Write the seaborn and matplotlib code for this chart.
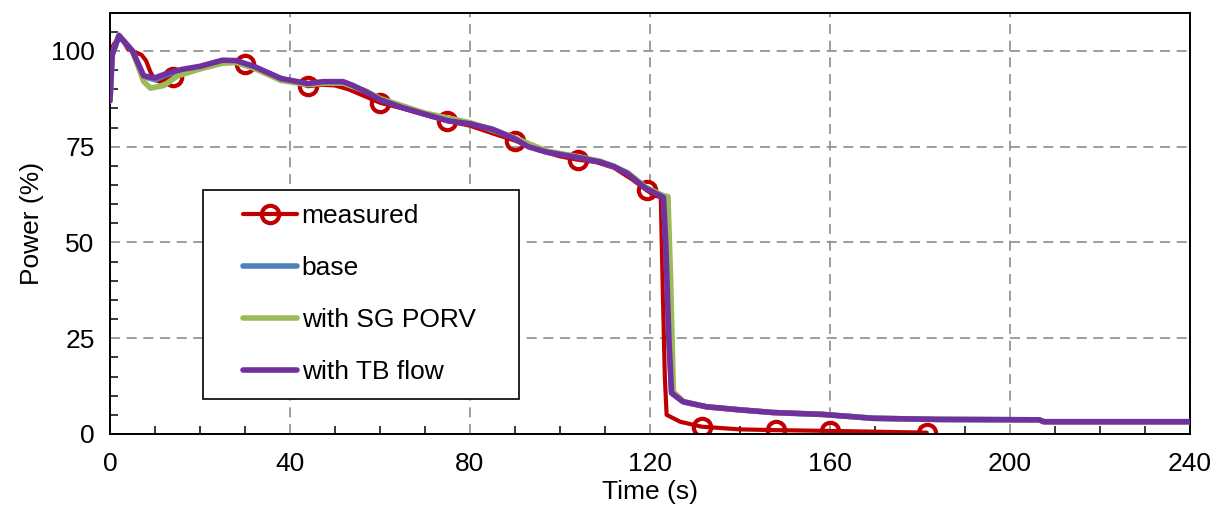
import numpy as np
import pandas as pd
import matplotlib
matplotlib.use("Agg")
import matplotlib.pyplot as plt
from matplotlib.ticker import MultipleLocator
from matplotlib.lines import Line2D
from matplotlib.legend_handler import HandlerLine2D
import seaborn as sns

# ---------------- data ----------------
meas_t = [0, 1, 2, 3, 4, 5, 6, 7, 8, 9, 10, 11, 12, 14, 16, 18, 20, 22, 25, 28, 30,
          32, 35, 38, 41, 44, 47, 50, 53, 56, 60, 65, 70, 75, 80, 85, 90, 95, 100,
          104, 108, 112, 116, 119.3, 121, 122.4, 122.8, 123.3, 123.7, 126.7, 131.5,
          140, 148, 160, 170, 181.5]
meas_v = [100, 102, 103.5, 102.5, 100.5, 100, 99.5, 99, 97.5, 94.5, 92.5, 92, 92.5,
          93.2, 94.5, 95.3, 95.7, 96.3, 97, 97.3, 96.6, 95.8, 94.5, 93, 92, 90.8,
          91.2, 91, 90, 88.5, 86.5, 85, 83.3, 81.7, 80.5, 78.5, 76.6, 74.2, 72.5,
          71.6, 71, 69.5, 66.5, 63.6, 62.3, 61.8, 40, 15, 5, 3.2, 1.9, 1.2, 1.0,
          0.8, 0.6, 0.35]
meas_marker_t = [14, 30, 44, 60, 75, 90, 104, 119.3, 131.5, 148, 160, 181.5]

base_t = [0, 0.5, 2, 5, 7.5, 10, 13, 16, 20, 25, 28, 32, 38, 44, 47.4, 51.8, 54, 57,
          60, 65, 70, 75, 80, 85, 89.6, 93, 97, 100, 104, 109, 112, 115, 119, 123,
          123.5, 124.2, 124.8, 127.4, 132.6, 140, 147.4, 158.5, 169.6, 184.4,
          206.5, 207.5, 240]
base_v = [87, 99, 104, 100, 93.3, 92.5, 94, 95, 95.8, 97.4, 97.3, 95.8, 92.6, 91.4,
          91.8, 91.8, 90.8, 89.3, 87.4, 85.3, 83.6, 81.9, 81.1, 79.6, 77.4, 75.1,
          73.7, 73.1, 72.3, 71.1, 69.9, 68.1, 64.3, 61.9, 50, 25, 10.7, 8.4, 7.1,
          6.3, 5.6, 5.1, 4.1, 3.8, 3.7, 3.2, 3.2]

porv_t = [0, 0.5, 2, 5, 7.5, 9, 12, 15, 20, 25, 28, 32, 38, 44, 47.4, 51.8, 57, 60,
          70, 80, 89.6, 97, 104, 109, 115, 119, 123, 124, 124.6, 125.2, 127.4,
          132.6, 140, 147.4, 158.5, 169.6, 184.4, 206.5, 207.5, 240]
porv_v = [87, 99, 104.2, 100, 92, 90.3, 91, 93.5, 95.3, 96.8, 97, 95.5, 92.3, 91.2,
          91.6, 91.6, 89.5, 87.6, 83.8, 81.3, 77.5, 73.9, 72.4, 71.2, 68.3, 64.5,
          62.2, 62, 40, 11, 8.5, 7.1, 6.3, 5.6, 5.1, 4.1, 3.8, 3.7, 3.2, 3.2]

tb_t = [0, 0.5, 2, 5, 7.5, 10, 13, 16, 20, 25, 28, 32, 38, 44, 47.4, 51.8, 54, 57,
        60, 65, 70, 75, 80, 85, 89.6, 93, 97, 100, 104, 109, 112, 115, 119, 123,
        123.5, 124.2, 124.8, 127.4, 132.6, 140, 147.4, 158.5, 169.6, 184.4, 206.5,
        207.5, 240]
tb_v = [87, 99, 104, 100, 93.5, 93, 94.3, 95.2, 96, 97.6, 97.5, 96, 92.8, 91.5, 92,
        92, 91, 89.3, 87.3, 85.2, 83.5, 81.8, 81, 79.5, 77.3, 75, 73.6, 73, 72.2,
        71, 69.8, 68, 64.2, 61.8, 50, 25, 10.7, 8.4, 7.1, 6.3, 5.6, 5.1, 4.1, 3.8,
        3.7, 3.2, 3.2]

x_ticks = [0, 40, 80, 120, 160, 200, 240]
y_ticks = [0, 25, 50, 75, 100]

labels = ["measured", "base", "with SG PORV", "with TB flow"]
colors = ["#C00000", "#4F81BD", "#9BBB59", "#7030A0"]

# ---------------- styling ----------------
sns.set_theme(style="white")
plt.rcParams["font.family"] = ["Liberation Sans", "DejaVu Sans"]
plt.rcParams["text.color"] = "black"
plt.rcParams["axes.labelcolor"] = "black"
plt.rcParams["xtick.color"] = "black"
plt.rcParams["ytick.color"] = "black"
FS = 19

fig = plt.figure(figsize=(12.19, 5.08), dpi=100)
ax = fig.add_axes([0.0902, 0.1457, 0.9762 - 0.0902, 0.975 - 0.1457])

df_meas = pd.DataFrame({"t": meas_t, "v": meas_v})
mark_idx = [meas_t.index(t) for t in meas_marker_t]
sns.lineplot(data=df_meas, x="t", y="v", sort=False, estimator=None, ax=ax,
             color=colors[0], lw=3.0, label=labels[0], marker="o",
             markevery=mark_idx, markersize=12.5, markerfacecolor="none",
             markeredgecolor=colors[0], markeredgewidth=3.0, zorder=2)

for t, v, lab, col in [(base_t, base_v, labels[1], colors[1]),
                       (porv_t, porv_v, labels[2], colors[2]),
                       (tb_t, tb_v, labels[3], colors[3])]:
    d = pd.DataFrame({"t": t, "v": v})
    sns.lineplot(data=d, x="t", y="v", sort=False, estimator=None, ax=ax,
                 color=col, lw=4.0, label=lab, zorder=3)

ax.set_xlim(0, 240)
ax.set_ylim(0, 110)
ax.set_xticks(x_ticks)
ax.set_yticks(y_ticks)
ax.xaxis.set_minor_locator(MultipleLocator(10))
ax.yaxis.set_minor_locator(MultipleLocator(5))
ax.tick_params(axis="both", which="major", direction="inout", length=14,
               width=1.3, color="black", labelsize=FS, pad=4, labelcolor="black")
ax.tick_params(axis="both", which="minor", direction="in", length=6,
               width=1.1, color="black")
ax.tick_params(axis="x", which="major", pad=6)
ax.tick_params(axis="x", which="minor", bottom=True)
ax.tick_params(axis="y", which="minor", left=True)

ax.grid(True, which="major", color="#8c8c8c", linestyle=(0, (6, 4)), lw=1.2)
ax.set_axisbelow(True)
for s in ax.spines.values():
    s.set_color("black")
    s.set_linewidth(1.4)

ax.set_xlabel("Time (s)", fontsize=FS, labelpad=3, color="black")
ax.set_ylabel("Power (%)", fontsize=FS, labelpad=5, color="black")


class RightLineHandler(HandlerLine2D):
    """Legend line drawn only in the right part of the handle box."""
    def __init__(self, gap, **kw):
        super().__init__(**kw)
        self.gap = gap

    def get_xdata(self, legend, xdescent, ydescent, width, height, fontsize):
        x0 = -xdescent + self.gap * fontsize
        x1 = -xdescent + width
        return np.array([x0, x1]), np.array([(x0 + x1) / 2.0])


leg = ax.legend(loc="upper left", bbox_to_anchor=(0.0861, 0.0887, 0.2926, 0.4905),
                mode="expand", fontsize=FS, frameon=True, fancybox=False,
                framealpha=1, edgecolor="black", borderpad=0.55,
                handlelength=3.0, handletextpad=0.19, labelspacing=1.06,
                borderaxespad=0, handler_map={Line2D: RightLineHandler(gap=0.95)})
leg.get_frame().set_linewidth(1.2)

fig.savefig("out.png", dpi=100)
